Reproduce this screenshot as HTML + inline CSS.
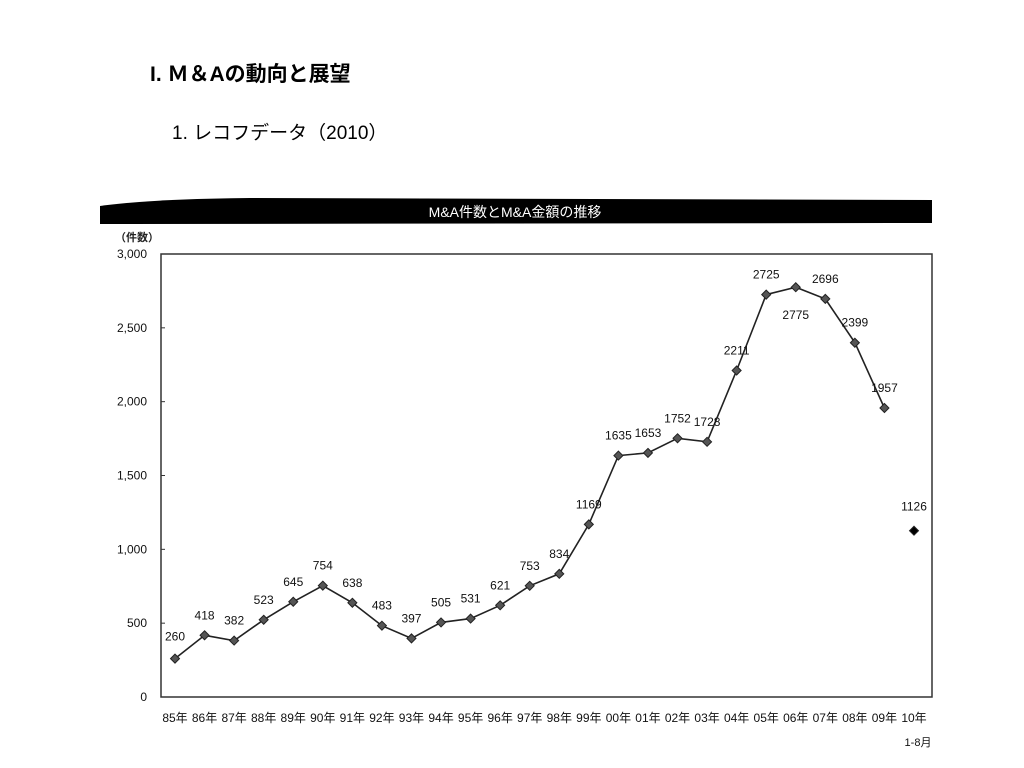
<!DOCTYPE html>
<html><head><meta charset="utf-8">
<style>
body{margin:0;width:1024px;height:768px;background:#fff;overflow:hidden;font-family:"Liberation Sans","Noto Sans CJK JP",sans-serif;}
.h1{position:absolute;left:150px;top:58px;font-size:21px;font-weight:bold;color:#000;}
.h2{position:absolute;left:172px;top:118px;font-size:19px;color:#000;}
svg{position:absolute;left:0;top:0;}
</style></head><body>
<div class="h1">I. Ｍ＆Aの動向と展望</div>
<div class="h2">1. レコフデータ（2010）</div>
<svg id="chart" width="1024" height="768">
  <path d="M100,206 Q150,199 250,198 L932,200 L932,223 L100,224 Z" fill="#000"/>
  <text x="515" y="217" fill="#fff" font-size="14" text-anchor="middle">M&amp;A件数とM&amp;A金額の推移</text>
  <text x="115" y="241" font-size="11" font-weight="bold" fill="#222">（件数）</text>
  <rect x="161" y="254" width="771" height="443" fill="none" stroke="#333" stroke-width="1.5"/>
  <g id="yt"></g><g id="xt"></g><g id="marks"></g>
</svg>
<script>
const categories=["85年","86年","87年","88年","89年","90年","91年","92年","93年","94年","95年","96年","97年","98年","99年","00年","01年","02年","03年","04年","05年","06年","07年","08年","09年","10年"];
const counts=[260,418,382,523,645,754,638,483,397,505,531,621,753,834,1169,1635,1653,1752,1728,2211,2725,2775,2696,2399,1957,1126];
const yTicks=[0,500,1000,1500,2000,2500,3000];
const yTickLabels=["0","500","1,000","1,500","2,000","2,500","3,000"];
const NS="http://www.w3.org/2000/svg";
const y=v=>697-v*(443/3000);
const x=i=>175+i*29.56;
function mk(tag,attrs,parent,txt){const e=document.createElementNS(NS,tag);for(const k in attrs)e.setAttribute(k,attrs[k]);if(txt!==undefined)e.textContent=txt;document.getElementById(parent).appendChild(e);return e;}
yTicks.forEach((v,i)=>{
  const t=mk("text",{x:147,y:y(v)+4,"font-size":12,"text-anchor":"end",fill:"#111"},"yt",yTickLabels[i]);
  
  
  const l=mk("line",{x1:161,x2:165,y1:y(v),y2:y(v),stroke:"#333"},"yt");
  
  
});
categories.forEach((c,i)=>{
  const t=mk("text",{x:x(i),y:722,"font-size":12,"text-anchor":"middle",fill:"#111"},"xt",c);
  
  
});
const sub=mk("text",{x:918,y:746,"font-size":11,"text-anchor":"middle",fill:"#111"},"xt","1-8月");


const n=counts.length-1;
let d="";
for(let i=0;i<n;i++)d+=(i?"L":"M")+x(i).toFixed(1)+","+y(counts[i]).toFixed(1);
const line=mk("path",{d:d,fill:"none",stroke:"#222","stroke-width":1.6},"marks");


counts.forEach((v,i)=>{
  const cx=x(i),cy=y(v),s=4.5;
  const p=mk("polygon",{points:`${cx},${cy-s} ${cx+s},${cy} ${cx},${cy+s} ${cx-s},${cy}`,fill:i===n?"#000":"#555",stroke:"#222"},"marks");
  
  
  let dx=0,dy=-16;
  if(i===0){dy=-18;}
  if(i===21){dy=32;}
  if(i===n){dy=-20;}
  const t=mk("text",{x:cx+dx,y:cy+dy,"font-size":12,"text-anchor":"middle",fill:"#111"},"marks",String(v));
  
  
});
</script>
</body></html>
